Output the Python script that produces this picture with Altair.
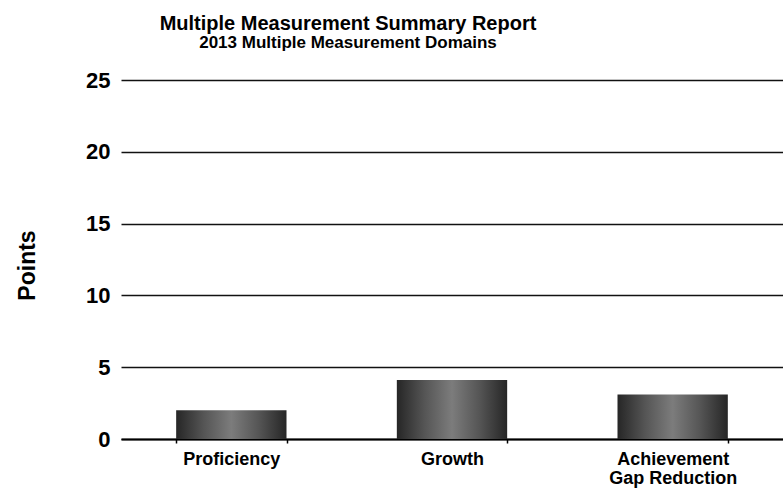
import altair as alt
import pandas as pd

# Domain scores for 2013
domains = ["Proficiency", "Growth", "Achievement Gap Reduction"]
points = [2.0, 4.1, 3.1]

df = pd.DataFrame({"Domain": domains, "Points": points})

# Shaded gray fill, darker at the bar edges
bar_fill = alt.LinearGradient(
    gradient="linear",
    x1=0, x2=1, y1=0, y2=0,
    stops=[
        alt.GradientStop(color="#262626", offset=0),
        alt.GradientStop(color="#555555", offset=0.25),
        alt.GradientStop(color="#7c7c7c", offset=0.5),
        alt.GradientStop(color="#555555", offset=0.75),
        alt.GradientStop(color="#262626", offset=1),
    ],
)

label_expr = (
    "datum.value == 'Achievement Gap Reduction' ? "
    "['Achievement', 'Gap Reduction'] : datum.label"
)

chart = (
    alt.Chart(df)
    .mark_bar(color=bar_fill)
    .encode(
        x=alt.X(
            "Domain:N",
            sort=domains,
            title=None,
            scale=alt.Scale(paddingInner=0.5, paddingOuter=0.25),
            axis=alt.Axis(
                labelAngle=0,
                labelExpr=label_expr,
                labelFont="Liberation Sans",
                labelFontWeight="bold",
                labelFontSize=18,
                labelColor="black",
                labelLineHeight=19,
                labelPadding=7,
                grid=False,
                tickBand="extent",
                tickColor="black",
                tickSize=4,
                tickWidth=1.5,
                domainColor="black",
                domainWidth=2,
            ),
        ),
        y=alt.Y(
            "Points:Q",
            title="Points",
            scale=alt.Scale(domain=[0, 25]),
            axis=alt.Axis(
                values=[0, 5, 10, 15, 20, 25],
                ticks=False,
                domain=False,
                grid=True,
                gridColor="#111111",
                gridWidth=1.6,
                labelFont="Liberation Sans",
                labelFontWeight="bold",
                labelFontSize=22,
                labelColor="black",
                labelPadding=11,
                titleFont="Liberation Sans",
                titleFontWeight="bold",
                titleFontSize=23,
                titleColor="black",
                titleX=-94,
                titleY=185,
                titleBaseline="middle",
            ),
        ),
    )
    .properties(
        width=662,
        height=359,
        background="white",
        autosize=alt.AutoSizeParams(type="none"),
        padding={"left": 121, "top": 80, "right": 0, "bottom": 58},
        title=alt.TitleParams(
            text="Multiple Measurement Summary Report",
            subtitle="2013 Multiple Measurement Domains",
            anchor="middle",
            dx=-104,
            font="Liberation Sans",
            fontSize=20,
            fontWeight="bold",
            color="black",
            subtitleFont="Liberation Sans",
            subtitleFontSize=17,
            subtitleFontWeight="bold",
            subtitleColor="black",
            subtitlePadding=1,
            offset=18,
        ),
    )
    .configure_view(strokeWidth=0)
)

chart.save("out.html", embed_options={"renderer": "svg", "actions": False})
